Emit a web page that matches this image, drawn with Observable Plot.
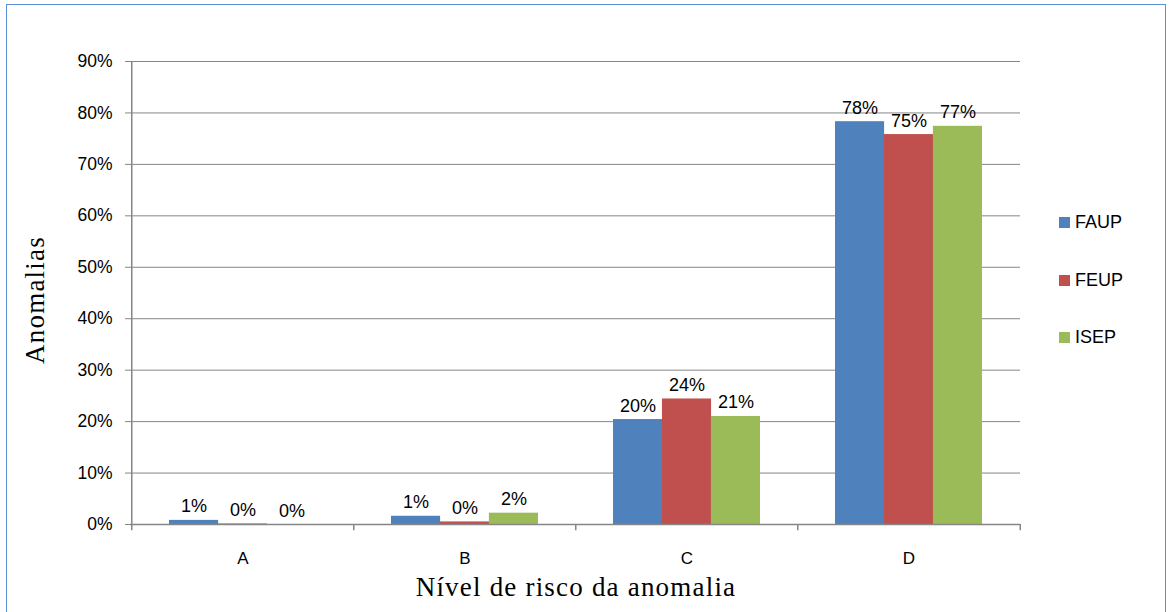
<!DOCTYPE html>
<html>
<head>
<meta charset="utf-8">
<script src="https://cdn.jsdelivr.net/npm/d3@7"></script>
<script src="https://cdn.jsdelivr.net/npm/@observablehq/plot@0.6"></script>
<style>
  html, body { margin: 0; padding: 0; background: #fff; }
  #wrap { position: relative; width: 1173px; height: 612px; overflow: hidden; font-family: "Liberation Sans", Arial, sans-serif; }
  #border { position: absolute; left: 6px; top: 4px; width: 1160px; height: 640px; border: 1px solid #5b8fd6; box-sizing: border-box; }
  #chart { position: absolute; left: 0; top: 0; }
  .legend { position: absolute; left: 1059px; font-size: 18px; color: #000; }
  .legend .item { position: absolute; left: 0; white-space: nowrap; display: flex; align-items: center; }
  .legend .sw { width: 11px; height: 11px; margin-right: 5px; }
  .ytitle { position: absolute; left: 35px; top: 300px; transform: translate(-50%, -50%) rotate(-90deg); font-family: "Liberation Serif", "Times New Roman", serif; font-size: 27px; letter-spacing: 1.2px; white-space: nowrap; }
  .xtitle { position: absolute; left: 576px; top: 587px; transform: translate(-50%, -50%); font-family: "Liberation Serif", "Times New Roman", serif; font-size: 27px; letter-spacing: 1.2px; white-space: nowrap; }
</style>
</head>
<body>
<div id="wrap">
  <div id="border"></div>
  <div id="chart"></div>
  <div class="ytitle">Anomalias</div>
  <div class="xtitle">Nível de risco da anomalia</div>
  <div class="legend" id="legend"></div>
</div>
<script>
const categories = ["A", "B", "C", "D"];
const seriesNames = ["FAUP", "FEUP", "ISEP"];
const seriesColors = ["#4f81bd", "#c0504d", "#9bbb59"];
const faupValues = [0.008, 0.016, 0.204, 0.783];
const feupValues = [0.001, 0.005, 0.244, 0.758];
const isepValues = [0.000, 0.022, 0.210, 0.774];
const faupLabels = ["1%", "1%", "20%", "78%"];
const feupLabels = ["0%", "0%", "24%", "75%"];
const isepLabels = ["0%", "2%", "21%", "77%"];
const yTicks = [0, 0.1, 0.2, 0.3, 0.4, 0.5, 0.6, 0.7, 0.8, 0.9];

const seriesValues = [faupValues, feupValues, isepValues];
const seriesLabels = [faupLabels, feupLabels, isepLabels];
const rows = [];
seriesNames.forEach((s, si) => categories.forEach((c, ci) => rows.push({cat: c, series: s, value: seriesValues[si][ci], label: seriesLabels[si][ci]})));

const W = 1173, H = 612;
const mL = 130, mR = 153, mT = 61, mB = 88;
const step = (W - mL - mR) / categories.length;
const padInner = 0.34;
const bw = step * (1 - padInner);
const third = bw / 3;
const gridColor = "#868686";

const marks = [
  Plot.gridY(yTicks, {stroke: gridColor, strokeOpacity: 1, strokeWidth: 1}),
  Plot.axisY(yTicks, {tickFormat: d3.format(".0%"), tickSize: 5, tickPadding: 13, fontSize: 17.5, stroke: gridColor, fill: "#000", label: null}),
  Plot.axisX({tickSize: 0, tickPadding: 27, fontSize: 17, fill: "#000", label: null})
];
seriesNames.forEach((s, si) => {
  const d = rows.filter(r => r.series === s);
  marks.push(Plot.barY(d, {x: "cat", y: "value", fill: seriesColors[si], insetLeft: si * third, insetRight: (2 - si) * third}));
  marks.push(Plot.text(d, {x: "cat", y: "value", text: "label", dx: (si - 1) * third, dy: -8, lineAnchor: "bottom", fontSize: 18, fill: "#000"}));
});
marks.push(Plot.ruleY([0], {stroke: gridColor, strokeWidth: 1.5}));
marks.push(Plot.ruleX([categories[0]], {x: d => d, y1: 0, y2: 0.9, dx: -step / 2, stroke: gridColor, strokeWidth: 1.5}));
marks.push(Plot.ruleX(categories, {x: d => d, y1: 0, y2: -0.012, dx: -step / 2, stroke: gridColor, strokeWidth: 1.5}));
marks.push(Plot.ruleX([categories[categories.length - 1]], {x: d => d, y1: 0, y2: -0.012, dx: step / 2, stroke: gridColor, strokeWidth: 1.5}));

const chart = Plot.plot({
  width: W,
  height: H,
  marginLeft: mL,
  marginRight: mR,
  marginTop: mT,
  marginBottom: mB,
  style: {fontFamily: "'Liberation Sans', Arial, sans-serif", background: "transparent", color: "#000"},
  x: {domain: categories, paddingInner: padInner, paddingOuter: padInner / 2, axis: null},
  y: {domain: [0, 0.9], axis: null},
  marks
});
document.getElementById("chart").appendChild(chart);

const legend = document.getElementById("legend");
const legendTops = [212, 270, 327];
seriesNames.forEach((s, i) => {
  const it = document.createElement("div");
  it.className = "item";
  it.style.top = legendTops[i] + "px";
  it.innerHTML = `<span class="sw" style="background:${seriesColors[i]}"></span><span>${s}</span>`;
  legend.appendChild(it);
});
</script>
</body>
</html>
